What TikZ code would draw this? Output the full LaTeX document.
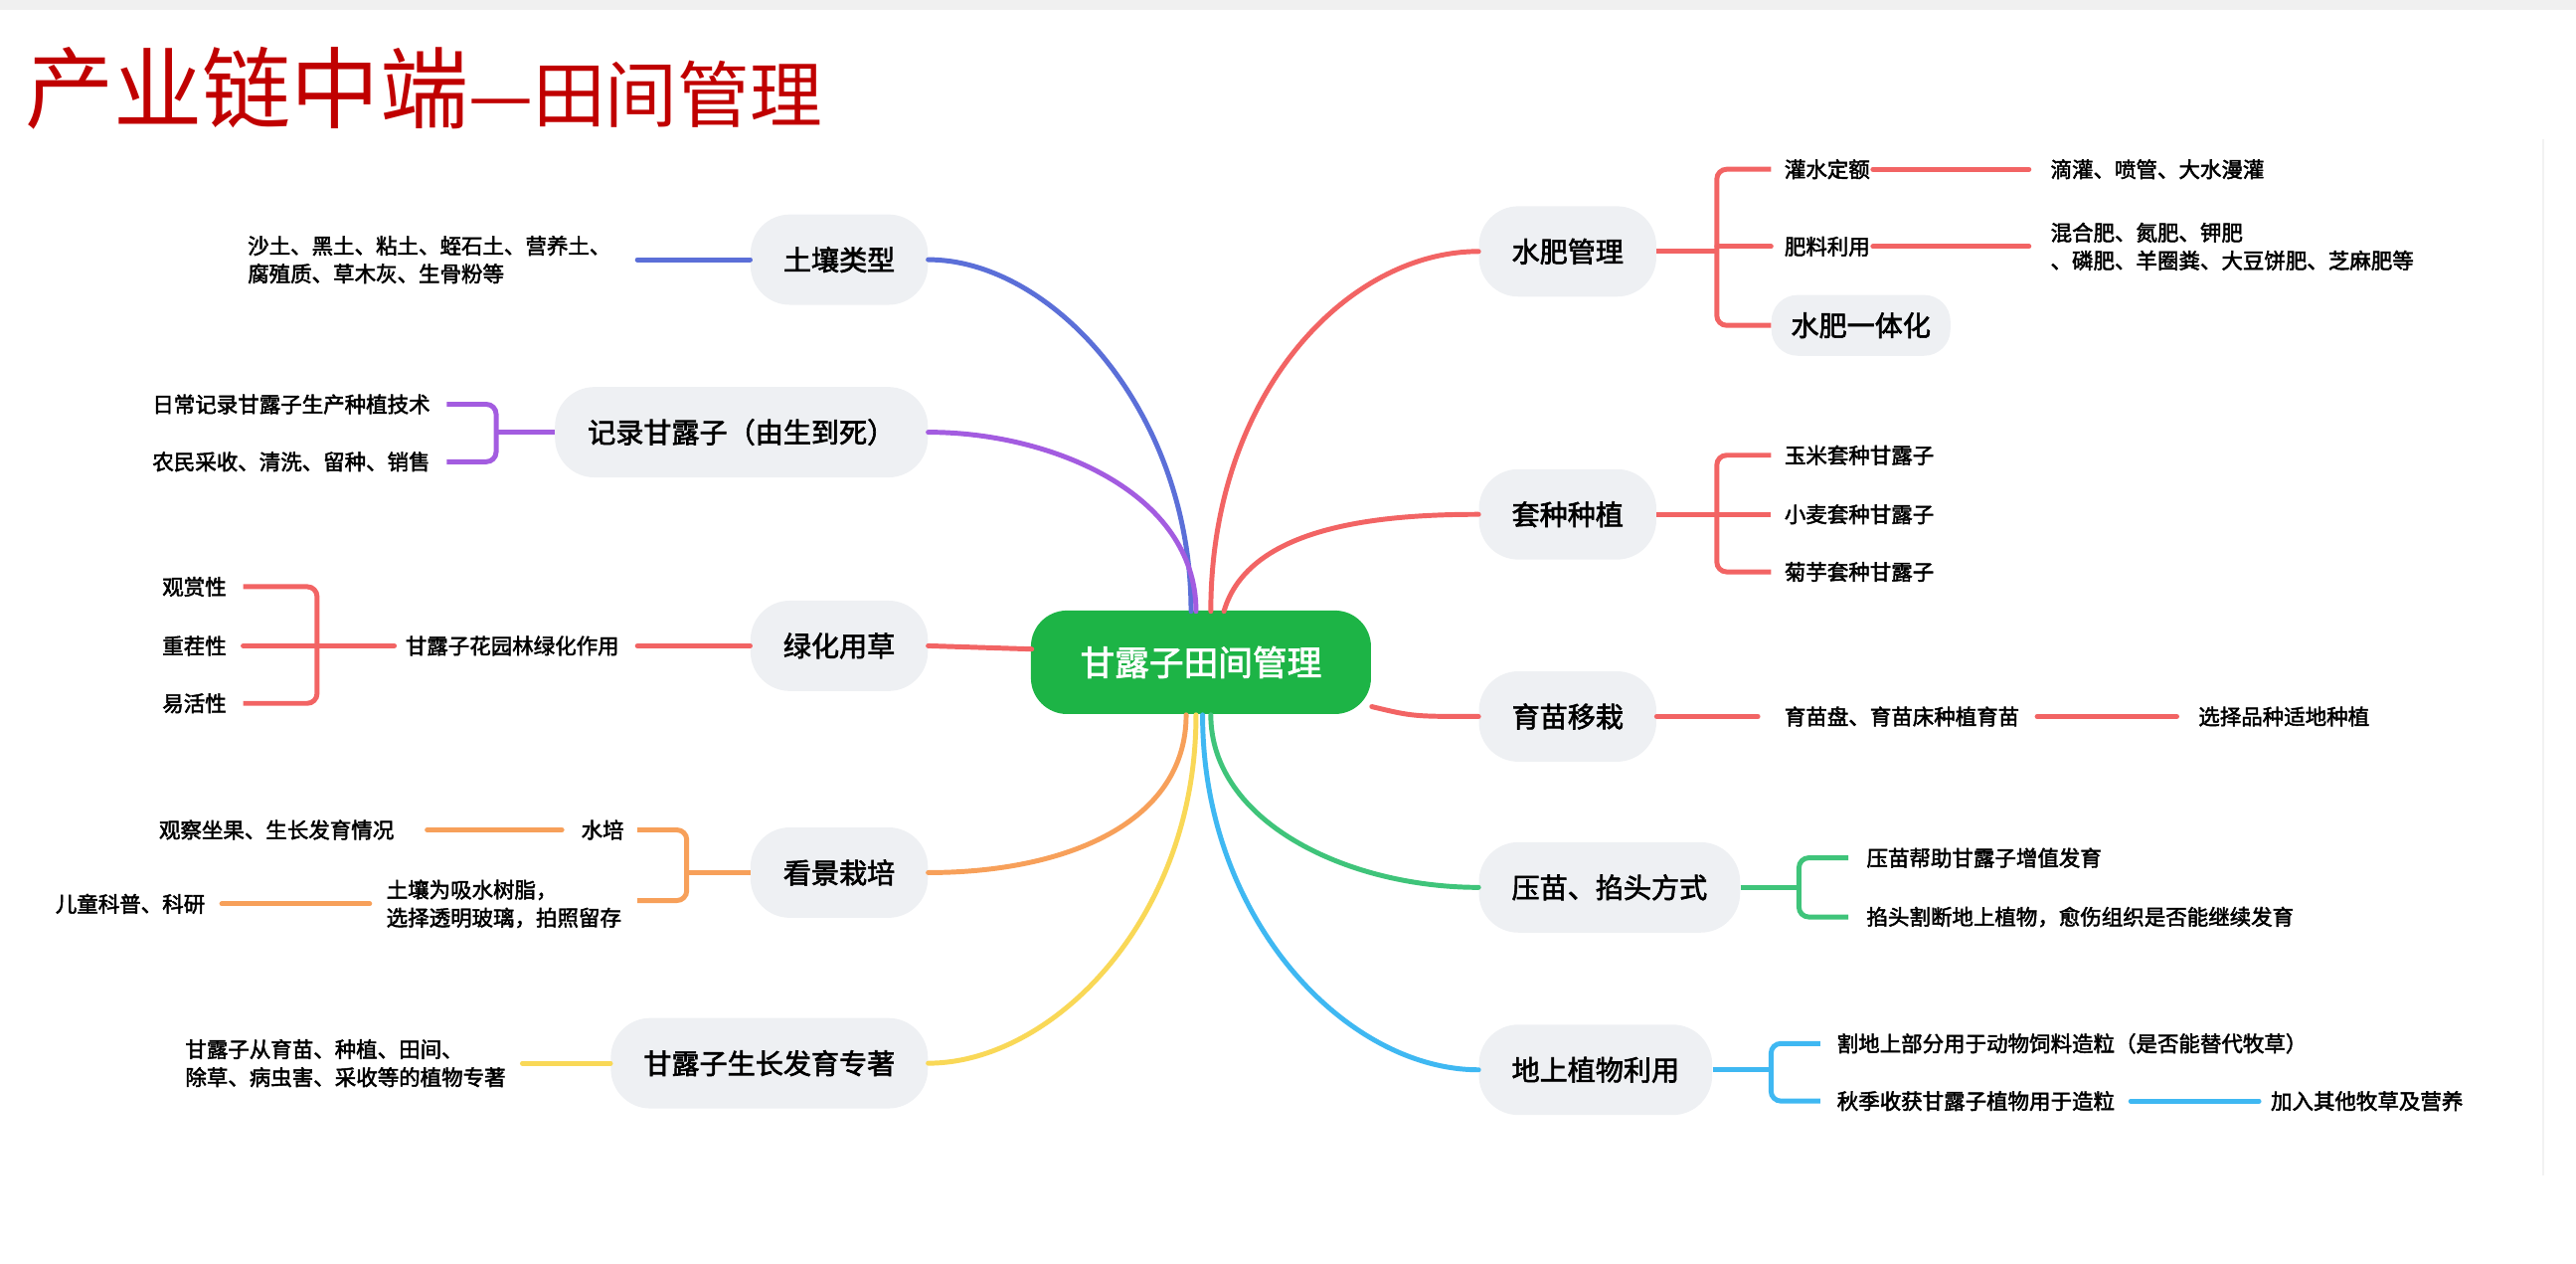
\documentclass[tikz,border=0pt]{standalone}
\usepackage{fontspec}
\setmainfont{Noto Sans CJK SC}
\newfontfamily\bfcjk{Noto Sans CJK SC}[FakeBold=2.2]
\definecolor{cblue}{HTML}{5B6FD8}
\definecolor{cpurple}{HTML}{A35CE0}
\definecolor{cred}{HTML}{F26464}
\definecolor{corange}{HTML}{F7A05A}
\definecolor{cyellow}{HTML}{F9D857}
\definecolor{cgreen}{HTML}{3FC47A}
\definecolor{ccyan}{HTML}{3FB8F2}
\definecolor{boxgray}{HTML}{EEF0F3}
\definecolor{title}{HTML}{C00000}
\definecolor{centergreen}{HTML}{1DB446}
\begin{document}
\begin{tikzpicture}[x=1pt,y=-1pt,
  branch/.style={fill=boxgray,rounded corners=24pt,minimum height=55pt,inner xsep=20pt,font=\fontsize{17}{20}\selectfont\bfcjk},
  leaf/.style={inner sep=0pt,font=\fontsize{13}{17}\selectfont\bfcjk},
  ln/.style={line width=3pt,line cap=round},
  br/.style={line width=3pt,rounded corners=6pt}]
\useasboundingbox (0,0) rectangle (1568,769);
\fill[gray!12] (0,0) rectangle (1568,6);
\draw[gray!10,line width=1pt] (1548,85) -- (1548,715);
% title
\node[anchor=base west,inner sep=0pt,text=title] (t) at (15,74) {\fontsize{54}{56}\selectfont 产业链中端\fontsize{44}{46}\selectfont —田间管理};
% center
\node[fill=centergreen,text=white,rounded corners=22pt,minimum width=207pt,minimum height=63pt,font=\fontsize{21}{24}\selectfont\bfcjk] (c) at (731,403) {甘露子田间管理};
% left branches
\node[branch,anchor=east] (L1) at (565,158) {土壤类型};
\node[branch,anchor=east] (L2) at (565,263) {记录甘露子（由生到死）};
\node[branch,anchor=east] (L3) at (565,393) {绿化用草};
\node[branch,anchor=east] (L4) at (565,531) {看景栽培};
\node[branch,anchor=east] (L5) at (565,647) {甘露子生长发育专著};
% right branches
\node[branch,anchor=west] (R1) at (900,153) {水肥管理};
\node[branch,anchor=west] (R2) at (900,313) {套种种植};
\node[branch,anchor=west] (R3) at (900,436) {育苗移栽};
\node[branch,anchor=west] (R4) at (900,540) {压苗、掐头方式};
\node[branch,anchor=west] (R5) at (900,651) {地上植物利用};
% main curves
\draw[ln,cblue] (725,372) .. controls (725,250) and (640,158) .. (L1.east);
\draw[ln,cpurple] (728,372) .. controls (728,300) and (640,263) .. (L2.east);
\draw[ln,cred] (628,395) -- (L3.east);
\draw[ln,corange] (722,435) .. controls (722,500) and (650,531) .. (L4.east);
\draw[ln,cyellow] (728,435) .. controls (728,560) and (640,647) .. (L5.east);
\draw[ln,cred] (737,372) .. controls (737,240) and (820,153) .. (R1.west);
\draw[ln,cred] (745,372) .. controls (760,320) and (840,313) .. (R2.west);
\draw[ln,cred] (835,430) .. controls (860,436) .. (R3.west);
\draw[ln,cgreen] (737,435) .. controls (737,500) and (820,540) .. (R4.west);
\draw[ln,ccyan] (732,435) .. controls (732,560) and (820,651) .. (R5.west);
% R1 children
\node[leaf,anchor=west] (r1a) at (1086,103) {灌水定额};
\node[leaf,anchor=west] (r1b) at (1086,150) {肥料利用};
\node[branch,anchor=west,minimum height=37pt,rounded corners=16pt,inner xsep=12pt] (r1c) at (1078,198) {水肥一体化};
\node[leaf,anchor=west] (r1a1) at (1248,103) {滴灌、喷管、大水漫灌};
\node[leaf,anchor=west,align=left] (r1b1) at (1248,150) {混合肥、氮肥、钾肥\\、磷肥、羊圈粪、大豆饼肥、芝麻肥等};
\draw[br,cred] (R1.east) -- (1045,153);
\draw[br,cred] (1078,103) -- (1045,103) -- (1045,198) -- (r1c.west);
\draw[ln,cred] (1045,150) -- (1078,150);
\draw[ln,cred] (1140,103) -- (1235,103);
\draw[ln,cred] (1140,150) -- (1235,150);
% R2 children
\node[leaf,anchor=west] (r2a) at (1086,277) {玉米套种甘露子};
\node[leaf,anchor=west] (r2b) at (1086,313) {小麦套种甘露子};
\node[leaf,anchor=west] (r2c) at (1086,348) {菊芋套种甘露子};
\draw[br,cred] (R2.east) -- (1078,313);
\draw[br,cred] (1078,277) -- (1045,277) -- (1045,348) -- (1078,348);
% R3
\node[leaf,anchor=west] (r3a) at (1086,436) {育苗盘、育苗床种植育苗};
\node[leaf,anchor=west] (r3b) at (1338,436) {选择品种适地种植};
\draw[ln,cred] (R3.east) -- (1070,436);
\draw[ln,cred] (1240,436) -- (1325,436);
% R4
\node[leaf,anchor=west] (r4a) at (1136,522) {压苗帮助甘露子增值发育};
\node[leaf,anchor=west] (r4b) at (1136,558) {掐头割断地上植物，愈伤组织是否能继续发育};
\draw[br,cgreen] (R4.east) -- (1095,540);
\draw[br,cgreen] (1125,522) -- (1095,522) -- (1095,558) -- (1125,558);
% R5
\node[leaf,anchor=west] (r5a) at (1118,635) {割地上部分用于动物饲料造粒（是否能替代牧草）};
\node[leaf,anchor=west] (r5b) at (1118,670) {秋季收获甘露子植物用于造粒};
\node[leaf,anchor=west] (r5c) at (1382,670) {加入其他牧草及营养};
\draw[br,ccyan] (R5.east) -- (1078,651);
\draw[br,ccyan] (1108,635) -- (1078,635) -- (1078,670) -- (1108,670);
\draw[ln,ccyan] (1297,670) -- (1375,670);
% L1
\node[leaf,anchor=east,align=left] (l1a) at (372,158) {沙土、黑土、粘土、蛭石土、营养土、\\腐殖质、草木灰、生骨粉等};
\draw[ln,cblue] (388,158) -- (L1.west);
% L2
\node[leaf,anchor=east] (l2a) at (262,246) {日常记录甘露子生产种植技术};
\node[leaf,anchor=east] (l2b) at (262,281) {农民采收、清洗、留种、销售};
\draw[br,cpurple] (L2.west) -- (302,263);
\draw[br,cpurple] (272,246) -- (302,246) -- (302,281) -- (272,281);
% L3
\node[leaf,anchor=east] (l3a) at (377,393) {甘露子花园林绿化作用};
\node[leaf,anchor=east] (l3b) at (138,357) {观赏性};
\node[leaf,anchor=east] (l3c) at (138,393) {重茬性};
\node[leaf,anchor=east] (l3d) at (138,428) {易活性};
\draw[ln,cred] (388,393) -- (L3.west);
\draw[ln,cred] (240,393) -- (148,393);
\draw[br,cred] (148,357) -- (193,357) -- (193,428) -- (148,428);
% L4
\node[leaf,anchor=east] (l4a) at (380,505) {水培};
\node[leaf,anchor=east] (l4b) at (240,505) {观察坐果、生长发育情况};
\node[leaf,anchor=west,align=left] (l4c) at (235,550) {土壤为吸水树脂，\\选择透明玻璃，拍照留存};
\node[leaf,anchor=east] (l4d) at (125,550) {儿童科普、科研};
\draw[br,corange] (L4.west) -- (418,531);
\draw[br,corange] (388,505) -- (418,505) -- (418,548) -- (388,548);
\draw[ln,corange] (260,505) -- (342,505);
\draw[ln,corange] (135,550) -- (225,550);
% L5
\node[leaf,anchor=east,align=left] (l5a) at (308,647) {甘露子从育苗、种植、田间、\\除草、病虫害、采收等的植物专著};
\draw[ln,cyellow] (318,647) -- (L5.west);
\end{tikzpicture}
\end{document}
